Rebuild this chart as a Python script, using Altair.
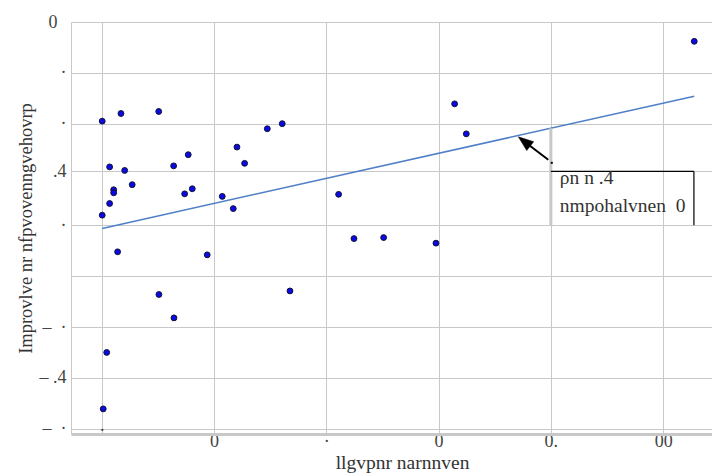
import json
import altair as alt
import pandas as pd

# scatter observations
obs_x = [0.05, 1.72, 5.08, 0.71, 2.05, 2.72, 1.07, 1.07, 0.71, 0.05,
         1.42, 5.10, 6.44, 6.41, 7.71, 7.39, 8.07, 9.40, 10.74, 11.72,
         12.05, 12.73, 14.75, 16.08, 16.77, 0.45, 0.14, 21.10, 22.47, 25.11,
         29.77, 31.43, 32.47, 52.77]
obs_y = [6.05, 6.20, 6.24, 5.15, 5.08, 4.80, 4.70, 4.64, 4.43, 4.20,
         3.48, 2.64, 2.18, 5.17, 5.39, 4.62, 4.72, 3.42, 4.57, 4.33,
         5.54, 5.22, 5.90, 6.00, 2.71, 1.50, 0.39, 4.61, 3.74, 3.76,
         3.65, 6.39, 5.80, 7.62]

# fitted trend line, first and last observation
fit_x = [0.05, 52.77]
fit_y = [3.94, 6.54]

# axis ticks and their labels
x_ticks = [0, 10, 20, 30, 40, 50]
x_tick_labels = ["·", "0", "·", "0", "0.", "00"]
y_ticks = [0, 1, 2, 3, 4, 5.06, 6, 7, 8]
y_tick_labels = ["–\u00a0\u00a0·", "–\u00a0.4", "–\u00a0\u00a0·", "", "·", ".4", "·", "·", "0"]

# callout box and the arrow pointing from it to the trend line
box_x = [40.0, 52.74]
box_y = [4.0, 5.06]
arrow_tail = (39.77, 5.29)
arrow_tip = (37.10, 5.74)
tail_dot = (40.08, 5.23)
callout_text = "ρn n .4\nnmpohalvnen\u00a0\u00a00"

x_title = "llgvpnr narnnven"
y_title = "Improvlve nr nfpvovenngvehovrp"

SERIF = "Liberation Serif"
GRID = "#c8c8c8"


def label_expr(values, labels):
    expr = "''"
    for v, lab in reversed(list(zip(values, labels))):
        expr = f"datum.value == {v} ? {json.dumps(lab, ensure_ascii=False)} : ({expr})"
    return expr


x_scale = alt.Scale(domain=[-2.73, 54.35], nice=False, zero=False)
y_scale = alt.Scale(domain=[-0.104, 8], nice=False, zero=False)

x_axis = alt.Axis(values=x_ticks, labelExpr=label_expr(x_ticks, x_tick_labels),
                  ticks=False,
                  labelPadding={"condition": {"test": f"datum.value == {x_ticks[0]}", "value": -13}, "value": -2},
                  domainColor=GRID, domainWidth=3,
                  gridColor=GRID, title=x_title, titleX=331, titleY=34,
                  titleBaseline="alphabetic", titleAlign="center", titleFontSize=19.5)
y_axis = alt.Axis(values=y_ticks, labelExpr=label_expr(y_ticks, y_tick_labels),
                  ticks=False,
                  labelPadding={"condition": {"test": f"datum.value == {y_ticks[-1]}", "value": 14}, "value": 5},
                  domainColor=GRID, domainWidth=1,
                  gridColor=GRID, title=y_title, titleFontSize=18.5)

points = pd.DataFrame({"x": obs_x, "y": obs_y})
fit = pd.DataFrame({"x": fit_x, "y": fit_y})

X = alt.X("x:Q", scale=x_scale, axis=x_axis)
Y = alt.Y("y:Q", scale=y_scale, axis=y_axis)

base = alt.Chart(points).encode(x=X, y=Y)

trend = alt.Chart(fit).mark_line(color="#4f7fc6", strokeWidth=1.5).encode(
    x=alt.X("x:Q", scale=x_scale), y=alt.Y("y:Q", scale=y_scale))

dots = alt.Chart(points).mark_point(
    filled=True, fill="#0a0ae6", stroke="#111133", strokeWidth=1, opacity=1, size=34
).encode(x=X, y=Y)

# grey marker from the trend line down to the bottom of the box
slope = (fit_y[1] - fit_y[0]) / (fit_x[1] - fit_x[0])
y_on_fit = fit_y[0] + slope * (box_x[0] - fit_x[0])
marker = alt.Chart(pd.DataFrame({"x": [box_x[0]], "y": [y_on_fit], "y2": [box_y[0]]})).mark_rule(
    color=GRID, strokeWidth=3
).encode(x=alt.X("x:Q", scale=x_scale), y=alt.Y("y:Q", scale=y_scale), y2="y2:Q")

box_top = alt.Chart(pd.DataFrame({"x": [box_x[0]], "x2": [box_x[1]], "y": [box_y[1]]})).mark_rule(
    color="black", strokeWidth=1.2
).encode(x=alt.X("x:Q", scale=x_scale), x2="x2:Q", y=alt.Y("y:Q", scale=y_scale))
box_right = alt.Chart(pd.DataFrame({"x": [box_x[1]], "y": [box_y[1]], "y2": [box_y[0]]})).mark_rule(
    color="black", strokeWidth=1.2
).encode(x=alt.X("x:Q", scale=x_scale), y=alt.Y("y:Q", scale=y_scale), y2="y2:Q")

callout = alt.Chart(pd.DataFrame({"x": [box_x[0]], "y": [box_y[1]], "t": [callout_text]})).mark_text(
    align="left", baseline="alphabetic", dx=9, dy=13, lineBreak="\n", lineHeight=28,
    font=SERIF, fontSize=19.5, color="#333333"
).encode(x=alt.X("x:Q", scale=x_scale), y=alt.Y("y:Q", scale=y_scale), text="t:N")

# arrow: shaft from the tail towards the head, triangular head at the tip
frac = 0.2
head_x = arrow_tip[0] + (arrow_tail[0] - arrow_tip[0]) * frac
head_y = arrow_tip[1] + (arrow_tail[1] - arrow_tip[1]) * frac
shaft = alt.Chart(pd.DataFrame({"x": [arrow_tail[0]], "y": [arrow_tail[1]],
                                "x2": [head_x], "y2": [head_y]})).mark_rule(
    color="black", strokeWidth=2
).encode(x=alt.X("x:Q", scale=x_scale), y=alt.Y("y:Q", scale=y_scale), x2="x2:Q", y2="y2:Q")
head = alt.Chart(pd.DataFrame({"x": [head_x], "y": [head_y]})).mark_point(
    shape="M0,-1L0.75,1L-0.75,1Z", filled=True, fill="black", stroke="black",
    strokeWidth=0.5, size=225, angle=308, opacity=1
).encode(x=alt.X("x:Q", scale=x_scale), y=alt.Y("y:Q", scale=y_scale))
tail = alt.Chart(pd.DataFrame({"x": [tail_dot[0]], "y": [tail_dot[1]]})).mark_square(
    color="black", size=4, opacity=1
).encode(x=alt.X("x:Q", scale=x_scale), y=alt.Y("y:Q", scale=y_scale))

chart = alt.layer(
    base.mark_point(opacity=0), trend, marker, box_top, box_right, callout, shaft, head, tail, dots
).properties(
    width=641, height=412,
    padding={"left": 71, "top": 22, "right": 0, "bottom": 42},
    autosize=alt.AutoSizeParams(type="none"),
).configure_view(
    stroke=None
).configure_axis(
    labelFont=SERIF, labelFontSize=18, labelColor="#444444",
    titleFont=SERIF, titleFontWeight="normal", titleColor="#333333",
    gridWidth=1,
)

chart.save("out.html", embed_options={"renderer": "svg", "actions": False})
